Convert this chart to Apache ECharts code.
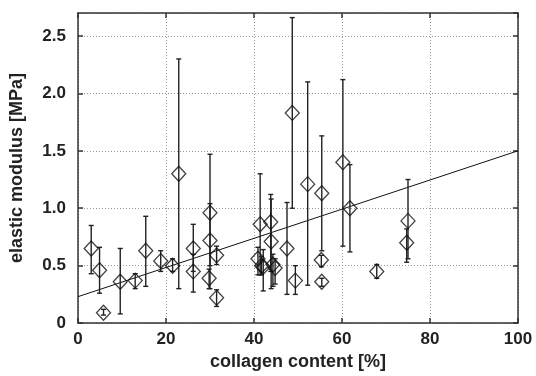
<!DOCTYPE html>
<html>
<head>
<meta charset="utf-8">
<script src="https://cdn.jsdelivr.net/npm/echarts@6/dist/echarts.min.js"></script>
<style>
  html, body { margin: 0; padding: 0; background: #fff; }
  #chart { width: 536px; height: 376px; }
</style>
</head>
<body>
<div id="chart"></div>
<script>
// collagen content [%] per sample
const collagen = [3, 4.9, 5.8, 9.6, 13.0, 15.4, 18.8, 21.5, 22.9, 26.2, 26.2, 30.0, 30.0, 29.8, 31.5, 31.5,
  41.4, 43.8, 43.9, 40.9, 41.7, 42.1, 44.3, 44.8, 47.5, 49.4, 48.7, 52.2, 55.4, 55.3, 55.4, 60.2, 61.8, 67.9, 75.0, 74.7]
// elastic modulus [MPa], mean
const modulus = [0.65, 0.46, 0.09, 0.36, 0.37, 0.63, 0.54, 0.50, 1.30, 0.65, 0.45, 0.96, 0.72, 0.39, 0.59, 0.22,
  0.86, 0.88, 0.71, 0.56, 0.50, 0.49, 0.51, 0.48, 0.65, 0.37, 1.83, 1.21, 1.13, 0.55, 0.36, 1.40, 1.00, 0.45, 0.89, 0.70]
// error bar ends
const errLow = [0.43, 0.26, 0.07, 0.08, 0.30, 0.32, 0.45, 0.45, 0.30, 0.45, 0.27, 0.50, 0.30, 0.30, 0.51, 0.145,
  0.42, 0.45, 0.30, 0.42, 0.42, 0.28, 0.32, 0.34, 0.25, 0.25, 1.00, 0.33, 0.63, 0.49, 0.32, 0.67, 0.62, 0.39, 0.56, 0.53]
const errHigh = [0.85, 0.66, 0.12, 0.65, 0.43, 0.93, 0.63, 0.56, 2.30, 0.86, 0.60, 1.47, 1.04, 0.47, 0.67, 0.29,
  1.30, 1.12, 1.08, 0.66, 0.58, 0.64, 0.60, 0.56, 1.05, 0.50, 2.66, 2.10, 1.63, 0.59, 0.39, 2.12, 1.38, 0.51, 1.25, 0.82]
// linear fit
const fitX = [0, 100]
const fitY = [0.23, 1.5]

const xTicks = [0, 20, 40, 60, 80, 100]
const yTicks = [0, 0.5, 1.0, 1.5, 2.0, 2.5]

const labelFont = {
  fontFamily: 'Liberation Sans',
  fontWeight: 'bold',
  fontSize: 17,
  color: '#222'
}
const axisLineStyle = { color: '#333', width: 1.5 }
const gridStyle = { color: '#999', type: [1, 2], width: 1 }

const chart = echarts.init(document.getElementById('chart'))

chart.setOption({
  animation: false,
  grid: { left: 78, top: 13, right: 18, bottom: 52 },
  xAxis: [
    {
      type: 'value',
      min: 0,
      max: 100,
      interval: 20,
      name: 'collagen content [%]',
      nameLocation: 'middle',
      nameGap: 24,
      nameTextStyle: Object.assign({}, labelFont, { fontSize: 18 }),
      axisLine: { show: true, onZero: false, lineStyle: axisLineStyle },
      axisTick: { inside: true, length: 5, lineStyle: axisLineStyle },
      axisLabel: Object.assign({ margin: 8 }, labelFont, {
        formatter: v => xTicks.includes(v) ? String(v) : ''
      }),
      splitLine: { show: true, lineStyle: gridStyle }
    },
    {
      type: 'value',
      position: 'top',
      min: 0,
      max: 100,
      interval: 20,
      axisLine: { show: true, onZero: false, lineStyle: axisLineStyle },
      axisTick: { show: true, inside: true, length: 5, lineStyle: axisLineStyle },
      axisLabel: { show: false },
      splitLine: { show: false }
    }
  ],
  yAxis: [
    {
      type: 'value',
      min: 0,
      max: 2.7,
      interval: 0.5,
      name: 'elastic modulus [MPa]',
      nameLocation: 'middle',
      nameGap: 52,
      nameTextStyle: Object.assign({}, labelFont, { fontSize: 18 }),
      axisLine: { show: true, onZero: false, lineStyle: axisLineStyle },
      axisTick: { show: true, inside: true, length: 5, lineStyle: axisLineStyle },
      axisLabel: Object.assign({ margin: 12, showMaxLabel: false }, labelFont, {
        formatter: v => {
          const t = yTicks.find(k => Math.abs(k - v) < 1e-6)
          if (t === undefined) return ''
          return t === 0 ? '0' : t.toFixed(1)
        }
      }),
      splitLine: { show: true, lineStyle: gridStyle }
    },
    {
      type: 'value',
      position: 'right',
      min: 0,
      max: 2.7,
      interval: 0.5,
      axisLine: { show: true, onZero: false, lineStyle: axisLineStyle },
      axisTick: { show: true, inside: true, length: 5, lineStyle: axisLineStyle },
      axisLabel: { show: false },
      splitLine: { show: false }
    }
  ],
  series: [
    {
      type: 'line',
      data: fitX.map((x, i) => [x, fitY[i]]),
      showSymbol: false,
      lineStyle: { color: '#111', width: 1 },
      z: 3
    },
    {
      type: 'custom',
      data: collagen.map((x, i) => [x, errLow[i], errHigh[i]]),
      renderItem: (params, api) => {
        const lo = api.coord([api.value(0), api.value(1)])
        const hi = api.coord([api.value(0), api.value(2)])
        const cap = 2.5
        const style = { stroke: '#222', lineWidth: 1.4 }
        return {
          type: 'group',
          children: [
            { type: 'line', shape: { x1: lo[0], y1: lo[1], x2: hi[0], y2: hi[1] }, style },
            { type: 'line', shape: { x1: lo[0] - cap, y1: lo[1], x2: lo[0] + cap, y2: lo[1] }, style },
            { type: 'line', shape: { x1: hi[0] - cap, y1: hi[1], x2: hi[0] + cap, y2: hi[1] }, style }
          ]
        }
      },
      z: 4
    },
    {
      type: 'scatter',
      data: collagen.map((x, i) => [x, modulus[i]]),
      symbol: 'diamond',
      symbolSize: [14, 15],
      itemStyle: { color: 'transparent', borderColor: '#111', borderWidth: 1.3 },
      z: 5
    }
  ]
})
</script>
</body>
</html>
